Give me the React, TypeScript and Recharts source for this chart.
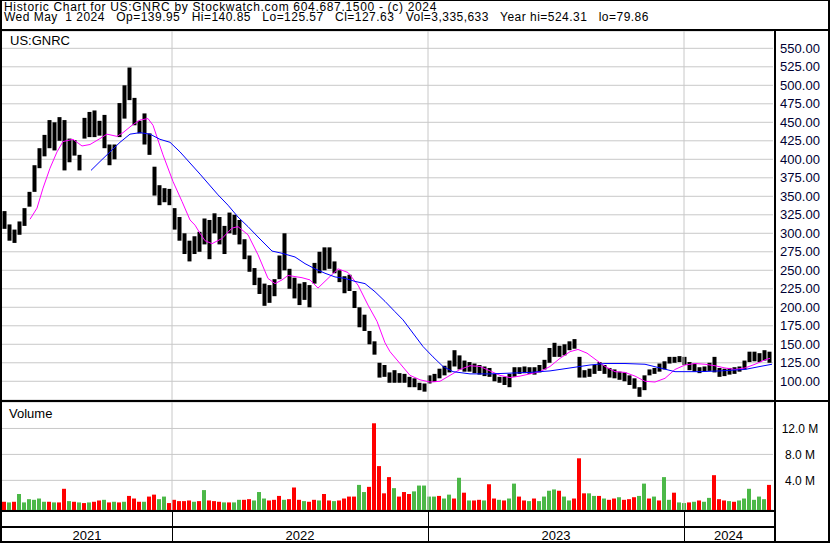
import React from 'react'
import { ComposedChart, Bar, Line, XAxis, YAxis, CartesianGrid, ReferenceLine, Cell } from 'recharts'

// weekly bins (5 trading days each), oldest first
const highs = [
  330, 312, 305, 316, 334, 356, 392, 415, 433, 453,
  450, 457, 453, 428, 426, 406, 456, 464, 466, 452,
  460, 420, 420, 476, 500, 524, 483, 452, 462, 435,
  390, 365, 361, 360, 334, 322, 300, 290, 296, 302,
  320, 318, 327, 322, 310, 328, 325, 318, 292, 270,
  253, 240, 232, 230, 238, 270, 300, 252, 240, 232,
  234, 230, 260, 275, 281, 281, 262, 250, 242, 244,
  222, 200, 190, 168, 154, 125, 122, 112, 115, 111,
  110, 106, 104, 98, 97, 108, 110, 117, 121, 128,
  142, 135, 128, 126, 124, 122, 120, 118, 110, 106,
  106, 110, 119, 119, 120, 119, 119, 122, 129, 145,
  152, 148, 150, 154, 157, 133, 115, 117, 122, 126,
  122, 118, 116, 113, 112, 108, 104, 92, 108, 116,
  118, 124, 127, 133, 133, 134, 133, 126, 124, 119,
  120, 125, 133, 118, 117, 118, 119, 120, 128, 140,
  140, 138, 142, 140,
]
const lows = [
  306, 290, 287, 298, 310, 336, 356, 388, 404, 415,
  412, 425, 385, 396, 405, 385, 428, 430, 430, 432,
  415, 392, 400, 430, 455, 480, 446, 435, 420, 406,
  351, 338, 342, 338, 305, 290, 272, 262, 272, 275,
  285, 265, 300, 285, 272, 300, 298, 285, 265, 248,
  230, 218, 202, 206, 215, 238, 250, 225, 212, 203,
  210, 200, 232, 246, 250, 252, 246, 234, 219, 222,
  199, 173, 168, 150, 136, 105, 106, 98, 98, 98,
  98, 92, 92, 88, 86, 97, 99, 104, 108, 112,
  120, 116, 113, 113, 111, 109, 107, 106, 100, 98,
  95, 92, 106, 110, 111, 110, 109, 112, 116, 125,
  133, 133, 135, 142, 144, 105, 105, 106, 110, 114,
  110, 105, 104, 102, 100, 95, 90, 79, 88, 108,
  110, 113, 116, 124, 125, 126, 122, 115, 113, 111,
  113, 114, 112, 106, 107, 109, 110, 113, 116, 126,
  127, 126, 128, 125,
]
// volume in millions per bin, 1 = up (green), 0 = down (red)
const volumes = [
  0.7, 0.6, 0.7, 1.9, 0.6, 1.1, 1.0, 1.2, 0.7, 0.7,
  0.6, 0.6, 2.7, 0.8, 0.7, 0.6, 0.5, 0.6, 0.7, 0.9,
  1.0, 0.6, 0.7, 0.6, 0.7, 1.6, 1.2, 0.7, 0.7, 1.5,
  1.8, 1.1, 1.5, 0.5, 1.0, 0.8, 0.8, 0.9, 0.7, 0.8,
  2.5, 0.9, 0.8, 0.7, 0.6, 0.6, 0.6, 1.0, 1.0, 1.1,
  0.9, 2.2, 1.2, 0.9, 1.0, 1.6, 1.0, 1.1, 2.9, 1.0,
  0.8, 0.7, 1.0, 0.9, 1.9, 0.9, 0.8, 0.9, 1.2, 1.5,
  1.5, 3.3, 2.2, 3.0, 12.8, 6.2, 2.0, 4.5, 2.8, 1.5,
  2.2, 1.9, 2.3, 3.2, 3.2, 1.5, 1.5, 1.6, 1.2, 1.8,
  1.2, 4.4, 2.1, 0.9, 0.9, 1.0, 0.9, 3.4, 1.2, 1.0,
  0.9, 1.2, 3.5, 1.5, 0.9, 0.8, 1.2, 0.8, 1.5, 2.4,
  2.6, 2.4, 1.5, 0.9, 1.2, 7.4, 2.0, 2.0, 1.6, 1.6,
  1.2, 1.0, 1.2, 1.4, 1.0, 1.1, 1.4, 1.6, 3.5, 1.2,
  1.5, 0.9, 4.5, 1.0, 2.1, 0.6, 0.5, 0.6, 0.7, 0.9,
  0.7, 1.3, 4.8, 1.1, 0.9, 0.8, 0.7, 0.9, 1.2, 2.7,
  1.0, 1.5, 1.1, 3.3,
]
const volumeUp = [
  0, 1, 0, 1, 1, 1, 1, 1, 1, 0,
  1, 0, 0, 1, 0, 1, 0, 1, 0, 0,
  1, 0, 1, 0, 1, 0, 0, 0, 1, 0,
  0, 1, 1, 0, 0, 0, 0, 0, 1, 0,
  1, 0, 0, 0, 1, 0, 1, 1, 0, 0,
  1, 1, 1, 0, 0, 0, 1, 0, 0, 0,
  1, 0, 0, 1, 0, 0, 1, 0, 0, 0,
  0, 1, 1, 0, 0, 0, 0, 0, 1, 0,
  0, 0, 1, 1, 1, 1, 1, 0, 1, 1,
  0, 1, 0, 1, 0, 0, 1, 0, 0, 1,
  0, 1, 1, 0, 0, 1, 0, 1, 1, 1,
  1, 0, 1, 1, 0, 0, 0, 1, 1, 0,
  1, 0, 0, 1, 0, 0, 0, 1, 1, 0,
  1, 0, 1, 1, 0, 1, 1, 0, 1, 0,
  1, 1, 0, 0, 0, 1, 0, 1, 1, 1,
  1, 1, 1, 0,
]
// moving averages: [trading day, price]
const pinkMA = [
  [28, 319], [35, 334], [41, 361], [48, 388], [55, 410], [61, 424], [71, 427], [80, 418],
  [88, 420], [98, 428], [105, 434], [115, 431], [121, 436], [130, 446], [138, 453], [146, 455],
  [151, 446], [161, 406], [171, 370], [180, 343], [188, 318], [193, 311], [198, 300], [203, 290],
  [210, 286], [220, 293], [230, 307], [236, 309], [246, 298], [256, 271], [266, 239], [273, 232],
  [280, 237], [286, 243], [300, 240], [308, 237], [316, 226], [326, 239], [336, 252], [346, 247],
  [356, 230], [366, 203], [375, 181], [383, 152], [388, 140], [398, 124], [408, 108], [418, 102],
  [428, 99], [438, 100], [448, 108], [458, 116], [468, 121], [478, 120], [488, 114], [498, 108],
  [508, 105], [518, 107], [528, 110], [538, 113], [548, 120], [558, 131], [568, 140], [576, 143],
  [585, 138], [593, 130], [603, 120], [613, 113], [623, 112], [633, 107], [643, 100], [653, 99],
  [663, 104], [673, 116], [683, 122], [693, 124], [703, 123], [713, 121], [723, 118], [733, 116],
  [743, 118], [753, 123], [763, 129], [768, 131],
]
const blueMA = [
  [89, 385], [98, 397], [108, 410], [118, 423], [128, 434], [138, 436], [148, 434], [158, 427],
  [168, 423], [178, 410], [188, 395], [198, 380], [216, 352], [226, 338], [236, 322], [246, 309],
  [256, 295], [270, 276], [280, 273], [293, 268], [303, 259], [313, 252], [323, 246], [333, 241],
  [343, 239], [353, 235], [363, 232], [373, 221], [383, 208], [393, 194], [401, 183], [421, 147],
  [431, 133], [441, 120], [451, 113], [468, 110], [488, 110], [508, 111], [528, 112], [548, 114],
  [568, 118], [588, 122], [603, 124], [623, 124], [643, 123], [658, 118], [673, 113], [698, 113],
  [718, 114], [743, 116], [758, 120], [770, 123],
]
const priceTicks = [100, 125, 150, 175, 200, 225, 250, 275, 300, 325, 350, 375, 400, 425, 450, 475, 500, 525, 550]
const volumeTicks = [4, 8, 12]
const yearLabels = ['2021', '2022', '2023', '2024']
const yearStarts = [170, 426, 682] // trading day where 2022, 2023, 2024 begin
const lastDay = 771

const W = 830
const PLOT_LEFT = 2
const AXIS_W = 57
const GRID = '#c8c8c8'
const FONT = '"Liberation Sans", Arial, sans-serif'
const PRICE_DOMAIN = [74.7, 573.4]
const VOL_DOMAIN = [-0.57, 16.08]

const priceData = highs.map((h, i) => ({ day: 2.5 + 5 * i, range: [lows[i], h] }))
const volumeData = volumes.map((v, i) => ({ day: 2.5 + 5 * i, vol: [VOL_DOMAIN[0], v], up: volumeUp[i] }))
const pinkData = pinkMA.map(([day, v]) => ({ day, ma: v }))
const blueData = blueMA.map(([day, v]) => ({ day, ma: v }))
const bounds = [0, ...yearStarts, lastDay]
const yearCenters = yearLabels.map((_, i) => (bounds[i] + bounds[i + 1]) / 2)

// the MA lines carry their own x values, so the bar band gets tiny: draw a fixed width per week
const PriceBar = (props: any) => {
  const { x, width, y, height } = props
  if (x == null || y == null) return null
  const cx = x + width / 2
  const top = Math.min(y, y + height)
  return <rect x={cx - 2} y={top} width={4} height={Math.max(Math.abs(height), 1)} fill="#000000" />
}

const PriceTick = (props: any) => (
  <text x={800} y={props.y + 4.6} textAnchor="middle" fontSize={13} fontFamily={FONT} fill="#000033">
    {Number(props.payload.value).toFixed(2)}
  </text>
)

const VolumeTick = (props: any) => (
  <text x={800} y={props.y + 4.3} textAnchor="middle" fontSize={12} fontFamily={FONT} fill="#000000">
    {Number(props.payload.value).toFixed(1) + ' M'}
  </text>
)

const YearTick = (props: any) => (
  <text x={props.x} y={138} textAnchor="middle" fontSize={13} fontFamily={FONT} fill="#000000">
    {yearLabels[props.index]}
  </text>
)

export default function App() {
  const px = (day: number) => PLOT_LEFT + day
  return (
    <div style={{ position: 'absolute', left: 0, top: 0, width: W, height: 543, background: '#fff', overflow: 'hidden', fontFamily: FONT }}>
      <div style={{ position: 'absolute', left: 0, top: 31 }}>
        <ComposedChart width={W} height={369} data={priceData} margin={{ top: 0, right: 0, bottom: 0, left: PLOT_LEFT }}>
          <CartesianGrid vertical={false} stroke={GRID} strokeWidth={1} />
          <XAxis dataKey="day" type="number" domain={[0, lastDay]} allowDataOverflow hide />
          <YAxis
            orientation="right"
            width={AXIS_W}
            type="number"
            domain={PRICE_DOMAIN}
            allowDataOverflow
            ticks={priceTicks}
            interval={0}
            axisLine={false}
            tickLine={false}
            tick={<PriceTick />}
          />
          {yearStarts.map((d) => (
            <ReferenceLine key={d} x={d} stroke={GRID} strokeWidth={1} />
          ))}
          <Bar dataKey="range" fill="#000000" shape={<PriceBar />} isAnimationActive={false} />
          <Line data={pinkData} dataKey="ma" type="linear" stroke="#ff00ff" strokeWidth={1} dot={false} isAnimationActive={false} />
          <Line data={blueData} dataKey="ma" type="linear" stroke="#0000ff" strokeWidth={1} dot={false} isAnimationActive={false} />
        </ComposedChart>
      </div>

      <div style={{ position: 'absolute', left: 0, top: 402 }}>
        <ComposedChart width={W} height={141} data={volumeData} margin={{ top: 0, right: 0, bottom: 0, left: PLOT_LEFT }}>
          <CartesianGrid vertical={false} stroke={GRID} strokeWidth={1} />
          <XAxis
            dataKey="day"
            type="number"
            domain={[0, lastDay]}
            allowDataOverflow
            ticks={yearCenters}
            interval={0}
            height={33}
            axisLine={false}
            tickLine={false}
            tick={<YearTick />}
          />
          <YAxis
            orientation="right"
            width={AXIS_W}
            type="number"
            domain={VOL_DOMAIN}
            allowDataOverflow
            ticks={volumeTicks}
            interval={0}
            axisLine={false}
            tickLine={false}
            tick={<VolumeTick />}
          />
          {yearStarts.map((d) => (
            <ReferenceLine key={d} x={d} stroke={GRID} strokeWidth={1} />
          ))}
          <Bar dataKey="vol" barSize={4} isAnimationActive={false}>
            {volumeData.map((d, i) => (
              <Cell key={i} fill={d.up ? '#4cb848' : '#ff0000'} />
            ))}
          </Bar>
        </ComposedChart>
      </div>

      <svg width={W} height={543} style={{ position: 'absolute', left: 0, top: 0, pointerEvents: 'none' }}>
        <text x={4} y={11} fontSize={12} letterSpacing={0.68} fontFamily={FONT} fill="#000" style={{ whiteSpace: 'pre' }}>
          Historic Chart for US:GNRC by Stockwatch.com 604.687.1500 - (c) 2024
        </text>
        <text x={4} y={20.5} fontSize={12} letterSpacing={0.47} fontFamily={FONT} fill="#000" style={{ whiteSpace: 'pre' }}>
          {'Wed May  1 2024   Op=139.95   Hi=140.85   Lo=125.57   Cl=127.63   Vol=3,335,633   Year hi=524.31   lo=79.86'}
        </text>
        <text x={10} y={45} fontSize={13} fontFamily={FONT} fill="#000">US:GNRC</text>
        <text x={9} y={418} fontSize={13} fontFamily={FONT} fill="#000">Volume</text>

        <rect x={0} y={0} width={W} height={1} fill="#000" />
        <rect x={0} y={0} width={2} height={543} fill="#000" />
        <rect x={828} y={0} width={2} height={543} fill="#000" />
        <rect x={0} y={541} width={W} height={2} fill="#000" />
        <rect x={0} y={29} width={W} height={2} fill="#000" />
        <rect x={774} y={31} width={2} height={512} fill="#000" />
        <rect x={0} y={400} width={W} height={2} fill="#000" />
        <rect x={0} y={510} width={776} height={2} fill="#000" />
        <rect x={0} y={526} width={776} height={2} fill="#000" />
        {yearStarts.map((d) => (
          <rect key={d} x={px(d)} y={512} width={1} height={29} fill="#000" />
        ))}
      </svg>
    </div>
  )
}
